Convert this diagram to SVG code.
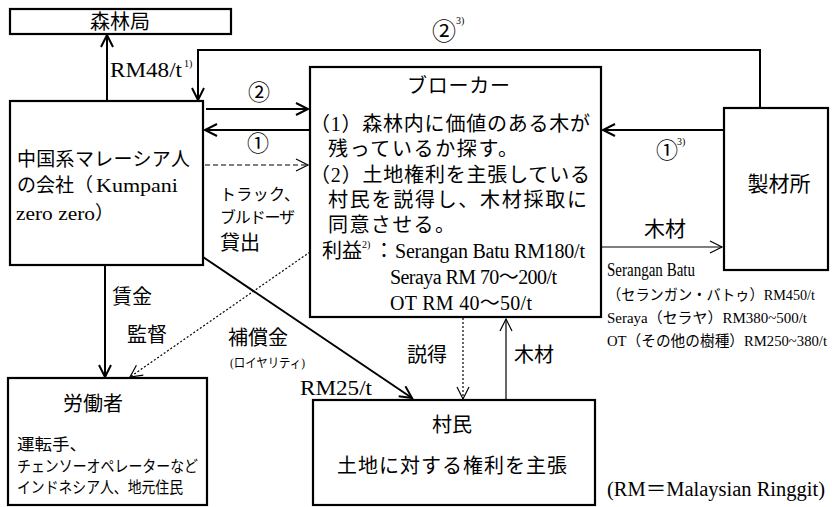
<svg xmlns="http://www.w3.org/2000/svg" width="832" height="507" viewBox="0 0 832 507">
<style>
.t{font-family:"Liberation Serif","Noto Sans CJK JP",serif;fill:#000;font-size:20px}
.j{font-family:"Noto Sans CJK JP",sans-serif;fill:#000}
.box{fill:#fff;stroke:#000;stroke-width:2.2}
.c{fill:none;stroke:#000;stroke-width:2}
.thin{stroke-width:1.2}
.dash{stroke-dasharray:5 3}
.dot{stroke-dasharray:2 2}
.s{font-size:10px}
</style>
<defs>
<marker id="ah" markerUnits="userSpaceOnUse" markerWidth="16" markerHeight="16" refX="13" refY="7" orient="auto">
<path d="M1,1 L13,7 L1,13" fill="none" stroke="#000" stroke-width="2"/>
</marker>
<marker id="aht" markerUnits="userSpaceOnUse" markerWidth="16" markerHeight="16" refX="13" refY="7" orient="auto">
<path d="M1,1 L13,7 L1,13" fill="none" stroke="#000" stroke-width="1.2"/>
</marker>
</defs>
<rect width="832" height="507" fill="#fff"/>

<g id="connectors">
<line class="c" x1="107" y1="101" x2="107" y2="35" marker-end="url(#ah)"/>
<polyline class="c" points="760,108 760,50 198,50 198,100" marker-end="url(#ah)"/>
<line class="c" x1="206" y1="109" x2="308" y2="109" marker-end="url(#ah)"/>
<line class="c" x1="309" y1="130" x2="205" y2="130" marker-end="url(#ah)"/>
<line class="c thin dash" x1="205" y1="165" x2="308" y2="165" marker-end="url(#aht)"/>
<line class="c" x1="724" y1="130" x2="603" y2="130" marker-end="url(#ah)"/>
<line class="c thin" x1="601" y1="247" x2="722" y2="247" marker-end="url(#aht)"/>
<line class="c" x1="105" y1="265" x2="105" y2="377" marker-end="url(#ah)"/>
<line class="c thin dot" x1="310" y1="252" x2="130" y2="377" marker-end="url(#aht)"/>
<line class="c" x1="203" y1="257" x2="412" y2="398" marker-end="url(#ah)"/>
<line class="c thin dot" x1="463" y1="318" x2="463" y2="399" marker-end="url(#aht)"/>
<line class="c thin" x1="506" y1="400" x2="506" y2="319" marker-end="url(#aht)"/>
</g>

<g id="forestry">
<rect class="box" x="10" y="9" width="221" height="25"/>
<text class="t" x="120" y="29" text-anchor="middle">森林局</text>
</g>

<g id="company">
<rect class="box" x="10" y="101" width="193" height="164"/>
<text class="t" x="17" y="166" style="font-size:19px" textLength="173">中国系マレーシア人</text>
<text class="t" x="17" y="192" style="font-size:19px">の会社（</text>
<text class="t" x="96" y="192" style="font-size:19px" textLength="82" lengthAdjust="spacingAndGlyphs">Kumpani</text>
<text class="t" x="16" y="220" style="font-size:19px" textLength="79" lengthAdjust="spacingAndGlyphs">zero zero</text>
<text class="t" x="95" y="220" style="font-size:19px">）</text>
</g>

<g id="broker">
<rect class="box" x="310" y="67" width="291" height="250"/>
<text class="t" x="407" y="93" textLength="103">ブローカー</text>
<text class="t" x="310" y="131" textLength="280">（1）森林内に価値のある木が</text>
<text class="t" x="328" y="156" textLength="190">残っているか探す。</text>
<text class="t" x="310" y="182" textLength="280">（2）土地権利を主張している</text>
<text class="t" x="328" y="207" textLength="259">村民を説得し、木材採取に</text>
<text class="t" x="328" y="232" textLength="127">同意させる。</text>
<text class="t" x="322" y="258">利益</text>
<text class="t s" x="362" y="248">2)</text>
<text class="t" x="374" y="258">：</text>
<text class="t" x="395" y="258" textLength="190">Serangan Batu RM180/t</text>
<text class="t" x="390" y="284" textLength="167">Seraya RM 70～200/t</text>
<text class="t" x="390" y="310" textLength="142">OT RM 40～50/t</text>
</g>

<g id="sawmill">
<rect class="box" x="724" y="108" width="104" height="162"/>
<text class="t" x="779" y="191" text-anchor="middle" style="font-size:21px">製材所</text>
</g>

<g id="workers">
<rect class="box" x="8" y="378" width="199" height="127"/>
<text class="t" x="93" y="411" text-anchor="middle">労働者</text>
<text class="t" x="17" y="450" style="font-size:16px" textLength="70" lengthAdjust="spacingAndGlyphs">運転手、</text>
<text class="t" x="17" y="472" style="font-size:16px" textLength="181" lengthAdjust="spacingAndGlyphs">チェンソーオペレーターなど</text>
<text class="t" x="17" y="493" style="font-size:16px" textLength="166" lengthAdjust="spacingAndGlyphs">インドネシア人、地元住民</text>
</g>

<g id="villagers">
<rect class="box" x="313" y="400" width="282" height="105"/>
<text class="t" x="452" y="432" text-anchor="middle">村民</text>
<text class="t" x="337" y="473" textLength="230">土地に対する権利を主張</text>
</g>

<g id="labels">
<text class="t" x="110" y="77" style="font-size:21px" textLength="72" lengthAdjust="spacingAndGlyphs">RM48/t</text>
<text class="t s" x="184" y="67">1)</text>
<text class="j" x="432" y="40" style="font-size:24px">②</text>
<text class="t s" x="456" y="24">3)</text>
<text class="j" x="248" y="100" style="font-size:22px">②</text>
<text class="j" x="247" y="151" style="font-size:22px">①</text>
<text class="j" x="656" y="158" style="font-size:22px">①</text>
<text class="t s" x="677" y="145">3)</text>
<text class="t" x="220" y="200" style="font-size:16px" textLength="80">トラック、</text>
<text class="t" x="220" y="223" style="font-size:16px" textLength="75">ブルドーザ</text>
<text class="t" x="220" y="250">貸出</text>
<text class="t" x="644" y="236" style="font-size:21px">木材</text>
<text class="t" x="607" y="276" style="font-size:18px" textLength="88" lengthAdjust="spacingAndGlyphs">Serangan Batu</text>
<text class="t" x="607" y="300" style="font-size:15px" textLength="208" lengthAdjust="spacingAndGlyphs">（セランガン・バトゥ）RM450/t</text>
<text class="t" x="607" y="323" style="font-size:15px" textLength="200" lengthAdjust="spacingAndGlyphs">Seraya（セラヤ）RM380~500/t</text>
<text class="t" x="607" y="346" style="font-size:15px" textLength="220" lengthAdjust="spacingAndGlyphs">OT（その他の樹種）RM250~380/t</text>
<text class="t" x="112" y="304">賃金</text>
<text class="t" x="127" y="342">監督</text>
<text class="t" x="228" y="345">補償金</text>
<text class="t" x="230" y="367" style="font-size:13px" textLength="75" lengthAdjust="spacingAndGlyphs">(ロイヤリティ)</text>
<text class="t" x="300" y="395" style="font-size:21px" textLength="72" lengthAdjust="spacingAndGlyphs">RM25/t</text>
<text class="t" x="407" y="362">説得</text>
<text class="t" x="514" y="362">木材</text>
<text class="t" x="607" y="496" style="font-size:20px" textLength="218" lengthAdjust="spacingAndGlyphs">(RM＝Malaysian Ringgit)</text>
</g>
</svg>
